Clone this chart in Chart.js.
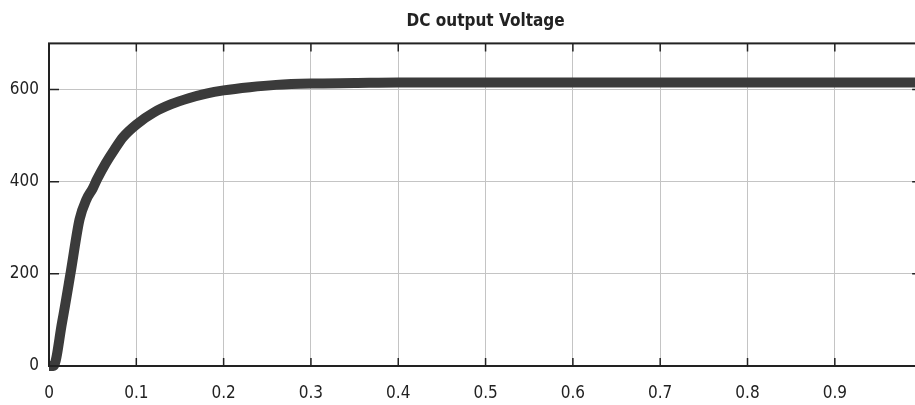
<!DOCTYPE html><html lang="en"><head><meta charset="utf-8"/>
<title>DC output Voltage</title>
<script src="https://cdn.jsdelivr.net/npm/chart.js@4.4.1/dist/chart.umd.min.js"></script>
<style>
  html,body{margin:0;padding:0;background:#fff;overflow:hidden;width:915px;height:405px}
  canvas{display:block}
</style></head><body>
<canvas id="c" width="944" height="405"></canvas>
<script>
// time (s) and DC output voltage (V)
const times = [0, 0.005, 0.015, 0.025, 0.035, 0.043, 0.05, 0.055, 0.065, 0.075, 0.085, 0.1, 0.12, 0.14, 0.16, 0.18, 0.2, 0.23, 0.26, 0.3, 0.35, 0.4, 0.5, 0.6, 0.7, 0.8, 0.9, 1.0];
const volts = [0, 0, 95, 205, 318, 362, 385, 405, 440, 470, 497, 524, 550, 568, 581, 591, 598, 605, 610, 613, 614, 615, 615, 615, 615, 615, 615, 615];
const xTicks = [0, 0.1, 0.2, 0.3, 0.4, 0.5, 0.6, 0.7, 0.8, 0.9, 1];
const yTicks = [0, 200, 400, 600];

const FONT = "'DejaVu Sans Condensed','Liberation Sans Narrow','Arial Narrow','Liberation Sans',sans-serif";
const INK = '#222';

// black box + inward tick marks, matlab scope style
const frame = {
  id: 'frame',
  afterDatasetsDraw(chart){
    const {ctx, chartArea:a, scales:{x, y}} = chart;
    ctx.save();
    ctx.strokeStyle = INK; ctx.lineWidth = 2;
    ctx.strokeRect(a.left, a.top, a.right - a.left, a.bottom - a.top);
    ctx.lineWidth = 1.5;
    ctx.beginPath();
    xTicks.forEach(v => { const p = x.getPixelForValue(v);
      ctx.moveTo(p, a.bottom); ctx.lineTo(p, a.bottom - 8);
      ctx.moveTo(p, a.top); ctx.lineTo(p, a.top + 8); });
    yTicks.forEach(v => { const p = y.getPixelForValue(v);
      ctx.moveTo(a.left, p); ctx.lineTo(a.left + 10, p);
      ctx.moveTo(a.right, p); ctx.lineTo(a.right - 10, p); });
    ctx.stroke();
    ctx.restore();
  }
};

new Chart(document.getElementById('c'), {
  type: 'line',
  data: { datasets: [{
    data: times.map((t, i) => ({x: t, y: volts[i]})),
    borderColor: '#3b3b3b', borderWidth: 10, pointRadius: 0,
    tension: 0.35, cubicInterpolationMode: 'monotone', clip: false
  }]},
  options: {
    responsive: false, animation: false,
    layout: { padding: 0 },
    plugins: {
      legend: { display: false }, tooltip: { enabled: false },
      title: { display: true, fullSize: false, text: 'DC output Voltage', color: INK,
        font: { family: FONT, size: 17, weight: 'bold' }, padding: { top: 11, bottom: 12 } }
    },
    scales: {
      x: { type: 'linear', min: 0, max: 1,
        afterBuildTicks: s => { s.ticks = xTicks.map(v => ({value: v})); },
        afterFit: s => { s.height = 39; },
        grid: { color: '#c4c4c4', lineWidth: 1, drawTicks: false },
        border: { display: false },
        ticks: { color: INK, padding: 17, maxRotation: 0, autoSkip: false,
          font: { family: FONT, size: 17 },
          callback: v => String(Number(v.toFixed(1))) } },
      y: { min: 0, max: 700,
        afterBuildTicks: s => { s.ticks = yTicks.map(v => ({value: v})); },
        afterFit: s => { s.width = 49; },
        grid: { color: '#c4c4c4', lineWidth: 1, drawTicks: false },
        border: { display: false },
        ticks: { color: INK, padding: 10, font: { family: FONT, size: 17 } } }
    }
  },
  plugins: [frame]
});
</script></body></html>
